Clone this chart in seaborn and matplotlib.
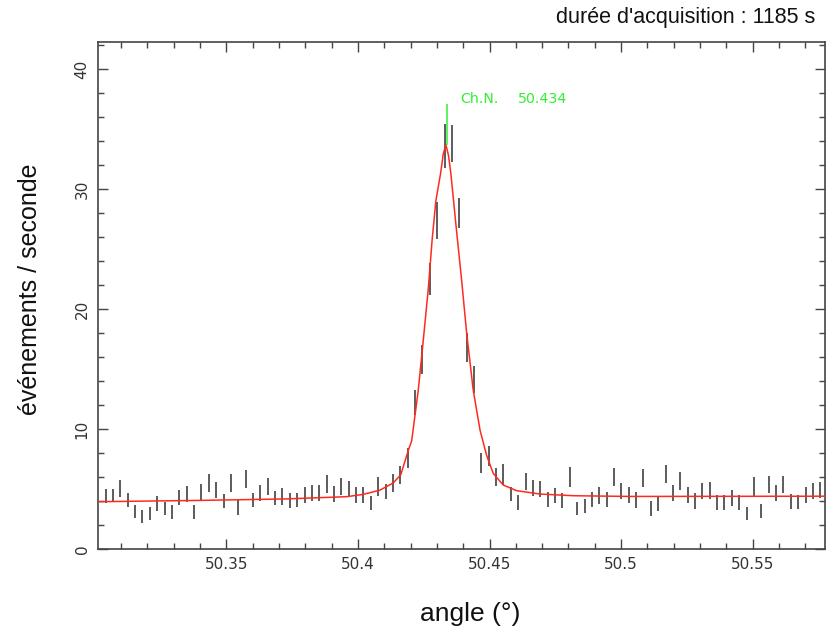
import matplotlib
matplotlib.use("Agg")
import matplotlib.pyplot as plt
from matplotlib.ticker import MultipleLocator, FuncFormatter
import seaborn as sns
import pandas as pd

# ---- data ----
angle = [50.3041, 50.3069, 50.3097, 50.3125, 50.3153, 50.3181, 50.3209, 50.3237, 50.3265, 50.3293,
         50.3321, 50.3349, 50.3377, 50.3405, 50.3433, 50.3461, 50.3489, 50.3517, 50.3545, 50.3573,
         50.3601, 50.3629, 50.3657, 50.3685, 50.3713, 50.3741, 50.3769, 50.3797, 50.3825, 50.3853,
         50.3881, 50.3909, 50.3937, 50.3965, 50.3993, 50.4021, 50.4049, 50.4077, 50.4105, 50.4133,
         50.4161, 50.4189, 50.4217, 50.4245, 50.4273, 50.4301, 50.4329, 50.4357, 50.4385, 50.4413,
         50.4441, 50.4469, 50.4497, 50.4525, 50.4553, 50.4581, 50.4609, 50.4637, 50.4665, 50.4693,
         50.4721, 50.4749, 50.4777, 50.4805, 50.4833, 50.4861, 50.4889, 50.4917, 50.4945, 50.4973,
         50.5001, 50.5029, 50.5057, 50.5085, 50.5113, 50.5141, 50.5169, 50.5197, 50.5225, 50.5253,
         50.5281, 50.5309, 50.5337, 50.5365, 50.5393, 50.5421, 50.5449, 50.5477, 50.5505, 50.5533,
         50.5561, 50.5589, 50.5617, 50.5645, 50.5673, 50.5701, 50.5729, 50.5757]

rate = [4.40, 4.46, 5.05, 4.05, 3.11, 2.72, 2.97, 3.80, 3.39, 3.08,
        4.30, 4.58, 3.08, 4.75, 5.47, 4.90, 4.00, 5.50, 3.47, 5.83,
        4.08, 4.67, 5.20, 4.25, 4.36, 4.03, 4.08, 4.50, 4.67, 4.67,
        5.39, 4.56, 5.22, 5.00, 4.50, 4.50, 3.83, 5.20, 4.78, 5.50,
        6.17, 7.56, 12.2, 15.8, 22.5, 27.4, 33.6, 33.8, 28.0, 16.8,
        14.1, 7.20, 7.75, 5.98, 6.20, 4.61, 3.88, 5.64, 5.08, 5.03,
        4.13, 4.43, 4.01, 6.00, 3.39, 3.56, 4.13, 4.44, 4.13, 5.98,
        4.85, 4.50, 4.08, 5.90, 3.40, 3.78, 6.24, 4.67, 5.65, 4.50,
        3.99, 4.83, 4.89, 3.88, 3.88, 4.25, 3.88, 2.97, 5.20, 3.15,
        5.40, 4.67, 5.40, 3.97, 3.90, 4.50, 4.83, 4.92]

rate_err = [0.56, 0.51, 0.69, 0.58, 0.56, 0.53, 0.56, 0.61, 0.56, 0.58,
            0.63, 0.63, 0.58, 0.65, 0.75, 0.69, 0.60, 0.72, 0.63, 0.76,
            0.61, 0.64, 0.69, 0.61, 0.69, 0.63, 0.61, 0.63, 0.67, 0.67,
            0.74, 0.65, 0.72, 0.68, 0.64, 0.64, 0.58, 0.80, 0.63, 0.72,
            0.76, 0.83, 1.04, 1.18, 1.32, 1.53, 1.83, 1.53, 1.25, 1.18,
            1.11, 0.83, 0.83, 0.74, 0.86, 0.58, 0.63, 0.72, 0.67, 0.67,
            0.65, 0.63, 0.63, 0.81, 0.56, 0.58, 0.65, 0.69, 0.65, 0.74,
            0.69, 0.64, 0.64, 0.76, 0.63, 0.58, 0.76, 0.67, 0.74, 0.64,
            0.65, 0.69, 0.72, 0.63, 0.63, 0.67, 0.63, 0.56, 0.78, 0.60,
            0.71, 0.67, 0.71, 0.61, 0.60, 0.69, 0.69, 0.69]

# fitted curve, points
fit_angle = [50.3012, 50.3399, 50.3722, 50.3957, 50.4020, 50.4083, 50.4134, 50.4163,
             50.4191, 50.4204, 50.4216, 50.4229, 50.4246, 50.4267, 50.4282, 50.4296,
             50.4314, 50.4324, 50.4334, 50.4344, 50.4353, 50.4372, 50.4394, 50.4413,
             50.4438, 50.4464, 50.4489, 50.4514, 50.4552, 50.4603, 50.4692, 50.4818,
             50.5034, 50.5775]
fit_rate = [3.94, 4.05, 4.17, 4.36, 4.55, 4.90, 5.50, 6.20,
            8.20, 9.00, 11.0, 13.2, 16.9, 21.6, 25.8, 29.0,
            31.3, 32.9, 33.7, 32.8, 31.3, 27.1, 22.4, 18.0,
            13.25, 9.90, 7.80, 6.30, 5.33, 4.86, 4.58, 4.44,
            4.38, 4.40]

peak_name = "Ch.N."
peak_value = "50.434"
peak_pos = 50.434
peak_top = 37.1
x_ticks = [50.35, 50.4, 50.45, 50.5, 50.55]
y_ticks = [0, 10, 20, 30, 40]

points = pd.DataFrame({"angle": angle, "rate": rate, "err": rate_err})
fit = pd.DataFrame({"angle": fit_angle, "rate": fit_rate})

sns.set_theme(style="ticks")
plt.rcParams["font.family"] = ["DejaVu Sans"]

fig = plt.figure(figsize=(8.29, 6.33), dpi=100)
ax = fig.add_axes([98 / 829, 84 / 633, 727 / 829, 507 / 633])

ax.errorbar(points["angle"], points["rate"], yerr=points["err"], fmt="none",
            ecolor="#303030", elinewidth=1.1, capsize=0, zorder=2)
sns.lineplot(data=fit, x="angle", y="rate", ax=ax, color="#ff2a1f",
             linewidth=1.1, sort=False, zorder=3)

# channel marker
green = "#33ee33"
fit_peak = max(fit_rate)
ax.vlines(peak_pos, fit_peak, peak_top, color=green, linewidth=1.1, zorder=4)
ax.text(peak_pos + 0.0050, 37.5, peak_name, color=green, fontsize=10.2,
        ha="left", va="center")
ax.text(peak_pos + 0.0267, 37.5, peak_value, color=green, fontsize=10.2,
        ha="left", va="center")

ax.set_xlim(50.3012, 50.5775)
ax.set_ylim(0, 42.25)
ax.set_xticks(x_ticks)
ax.set_yticks(y_ticks)
ax.xaxis.set_minor_locator(MultipleLocator(0.01))
ax.yaxis.set_minor_locator(MultipleLocator(2))
ax.xaxis.set_major_formatter(FuncFormatter(lambda v, p: f"{v:g}"))

ax.tick_params(which="both", direction="in", top=True, right=True,
               color="#444444", width=1.0, labelsize=11, labelcolor="#333333", pad=6)
ax.tick_params(which="major", length=7)
ax.tick_params(which="minor", length=4)
for lab in ax.get_yticklabels():
    lab.set_rotation(90)
    lab.set_va("center")

for s in ax.spines.values():
    s.set_color("#444444")
    s.set_linewidth(1.2)

lab_font = ["Liberation Sans", "DejaVu Sans"]
ax.set_xlabel("angle (°)", fontsize=19, family=lab_font, color="#111111", va="center")
ax.set_ylabel("événements / seconde", fontsize=18, family=lab_font, color="#111111", va="center")
ax.xaxis.set_label_coords(0.5117, -0.128)
ax.yaxis.set_label_coords(-0.0935, 0.512)

fig.text(815 / 829, 1 - 18 / 633, "durée d'acquisition : 1185 s", ha="right", va="center",
         fontsize=15.5, color="#111111", family=lab_font)

fig.savefig("out.png", dpi=100)
